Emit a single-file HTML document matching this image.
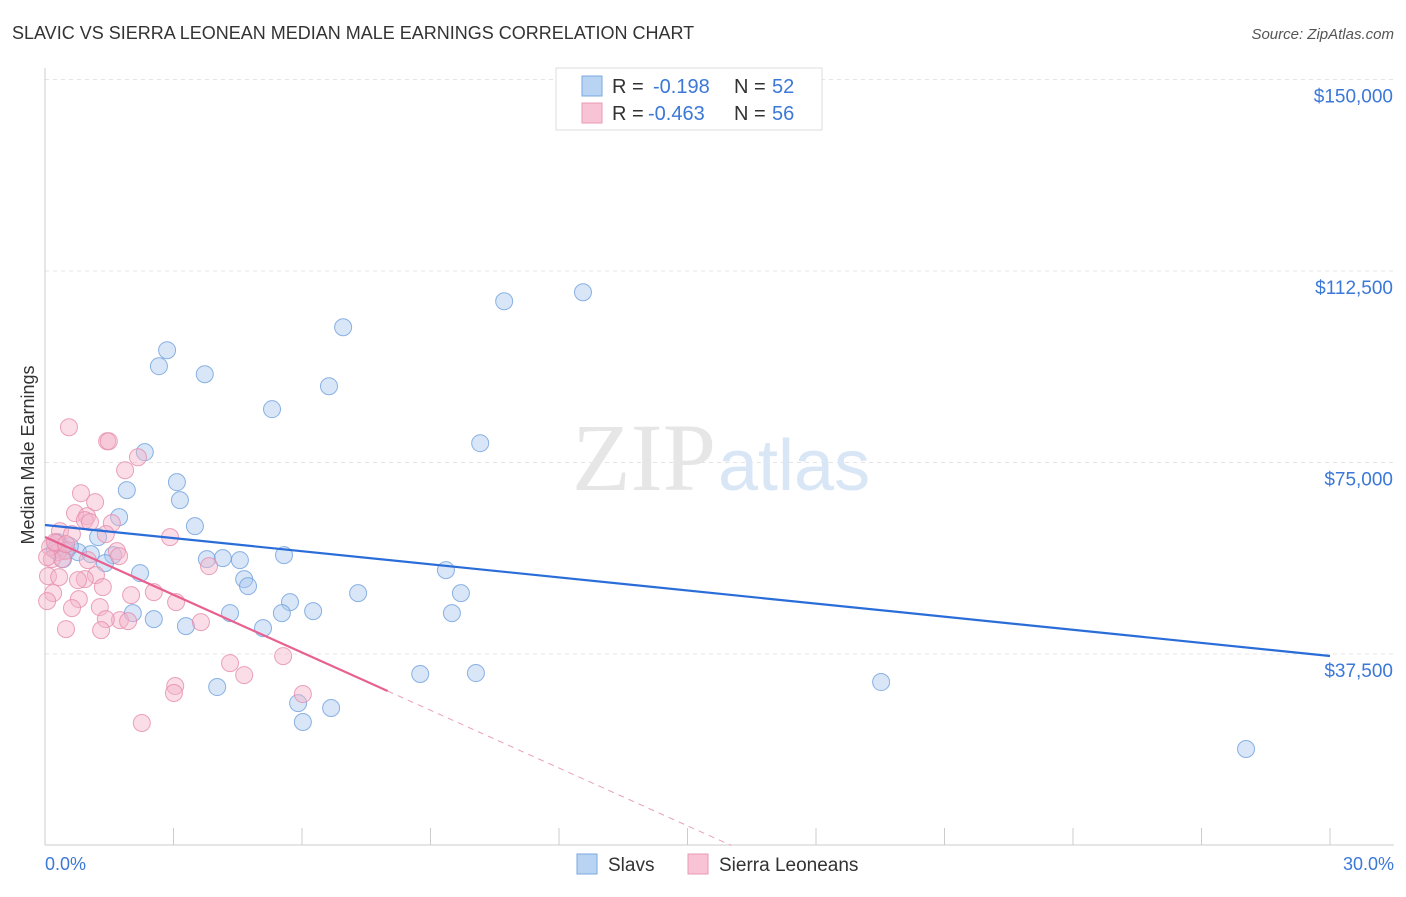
<!DOCTYPE html>
<html><head><meta charset="utf-8"><style>
body{margin:0;background:#fff;font-family:"Liberation Sans",sans-serif;}
svg text{font-family:"Liberation Sans",sans-serif;}
</style></head><body>
<svg id="chart" width="1406" height="892">
<text x="12" y="39" font-size="18" fill="#333">SLAVIC VS SIERRA LEONEAN MEDIAN MALE EARNINGS CORRELATION CHART</text>
<text x="1394" y="39" font-size="15" fill="#555" text-anchor="end" font-style="italic">Source: ZipAtlas.com</text>
<g id="grid"></g>
<text x="716" y="490" font-size="96" fill="#e6e6e6" text-anchor="end" style="font-family:'Liberation Serif',serif">ZIP</text>
<text x="718" y="490" font-size="72" fill="#d8e6f6">atlas</text>
<g id="axes"></g>
<g id="pts"></g>
<g id="trends"></g>
<text x="34" y="455" font-size="18" fill="#333" text-anchor="middle" transform="rotate(-90 34 455)">Median Male Earnings</text>
<text x="45" y="870" font-size="18" fill="#3b78d8">0.0%</text>
<text x="1394" y="870" font-size="18" fill="#3b78d8" text-anchor="end">30.0%</text>
<g>
<rect x="556" y="68" width="266" height="62" fill="#fff" stroke="#ddd"/>
<rect x="582" y="76" width="20" height="20" fill="#b9d3f3" stroke="#7aaae0"/>
<rect x="582" y="103" width="20" height="20" fill="#f8c3d4" stroke="#e99ab6"/>
<text x="612" y="93" font-size="20" fill="#333">R =</text><text x="653" y="93" font-size="20" fill="#3b78d8">-0.198</text>
<text x="734" y="93" font-size="20" fill="#333">N =</text><text x="772" y="93" font-size="20" fill="#3b78d8">52</text>
<text x="612" y="120" font-size="20" fill="#333">R =</text><text x="648" y="120" font-size="20" fill="#3b78d8">-0.463</text>
<text x="734" y="120" font-size="20" fill="#333">N =</text><text x="772" y="120" font-size="20" fill="#3b78d8">56</text>
</g>
<g>
<rect x="577" y="854" width="20" height="20" fill="#b9d3f3" stroke="#7aaae0"/>
<text x="608" y="871" font-size="19" fill="#333">Slavs</text>
<rect x="688" y="854" width="20" height="20" fill="#f8c3d4" stroke="#e99ab6"/>
<text x="719" y="871" font-size="19" fill="#333">Sierra Leoneans</text>
</g>
</svg>
<script>
const yTicks=[37500,75000,112500,150000];
const yTickLabels=["$37,500","$75,000","$112,500","$150,000"];
const slavX=[12.56,10.72,6.96,2.85,2.66,3.73,6.63,5.30,10.16,2.33,3.08,1.91,3.15,1.73,3.50,1.24,0.30,0.51,0.77,1.07,1.59,1.40,0.42,3.78,4.15,4.55,5.58,9.36,2.22,4.65,4.74,7.31,9.71,5.72,4.32,5.53,6.26,2.05,2.54,3.29,5.09,9.50,8.76,10.06,4.02,19.52,5.91,6.68,6.02,28.04,0.23,0.58];
const slavY=[108340,106580,101490,96990,93860,92290,89940,85440,78780,77020,71150,69590,67630,64300,62540,60390,59410,57850,57450,57060,56860,55300,56080,56080,56280,55890,56860,53920,53330,52160,50790,49420,49420,47660,45510,45510,45900,45510,44330,42960,42570,45510,33580,33770,31030,32010,27890,26920,24180,18900,57850,58630];
const sierraX=[0.56,1.45,1.49,1.87,2.17,0.84,1.17,0.70,0.98,0.93,1.05,1.56,0.35,2.92,0.63,0.26,0.47,0.30,0.12,0.16,1.68,1.73,0.07,1.19,0.93,0.77,3.83,0.19,1.35,0.05,0.79,2.01,2.54,3.06,0.63,1.28,1.75,1.42,1.94,3.64,0.49,1.31,4.32,4.65,5.56,3.04,3.01,6.02,2.26,0.40,0.23,0.49,1.00,0.05,0.33,1.42];
const sierraY=[81910,79170,79170,73490,76030,68990,67230,65080,64490,63710,63320,63120,61560,60390,60970,59210,57650,57450,58430,56080,57650,56670,52750,52940,52160,51960,54700,49420,50600,47850,48250,49030,49620,47660,46490,46690,44140,44330,43940,43750,42380,42180,35720,33370,37090,31230,29860,29660,23990,56080,59410,59020,55890,56470,52550,60970];
// trend [intercept at 0%, slope per %]
const slavTrend=[62760,-855];
const sierraTrend=[60410,-3770];
const sierraSolidEnd=8;
const X0=45,X1=1330,XMAX=30,Y0=845.5,YS=191.5/37500;
const xp=v=>X0+(X1-X0)*v/XMAX, yp=v=>Y0-v*YS;
const NS="http://www.w3.org/2000/svg";
function mk(t,a,p){const e=document.createElementNS(NS,t);for(const k in a)e.setAttribute(k,a[k]);p.appendChild(e);return e;}
const grid=document.getElementById('grid'),axes=document.getElementById('axes'),pts=document.getElementById('pts'),tr=document.getElementById('trends');
yTicks.forEach((t,i)=>{
 const l=mk('line',{x1:45,x2:1394,y1:yp(t),y2:yp(t),stroke:'#e4e4e4','stroke-dasharray':'4,4'},grid);
 
 
 const tx=mk('text',{x:1393,y:yp(t)+23,'font-size':19,fill:'#3b78d8','text-anchor':'end'},axes);
 tx.textContent=yTickLabels[i];
 
 
});
mk('line',{x1:45,x2:45,y1:68,y2:845,stroke:'#ccc'},axes);
mk('line',{x1:45,x2:1394,y1:845,y2:845,stroke:'#ccc'},axes);
for(let i=0;i<=10;i++){const t=mk('line',{x1:xp(i*3),x2:xp(i*3),y1:828,y2:845,stroke:'#ccc'},axes);
 
 }
function dots(xs,ys,f,s,n){xs.forEach((x,i)=>{const c=mk('circle',{cx:xp(x),cy:yp(ys[i]),r:8.5,fill:f,'fill-opacity':0.45,stroke:s,'stroke-opacity':0.8,'stroke-width':1},pts);
 
 });}
dots(slavX,slavY,'#a9c8f0','#6fa0dc','slav-point');
dots(sierraX,sierraY,'#f5b3ca','#e68cad','sierra-point');
const ty=(p,x)=>p[0]+p[1]*x;
let l=mk('line',{x1:xp(0),y1:yp(ty(slavTrend,0)),x2:xp(30),y2:yp(ty(slavTrend,30)),stroke:'#2a6dd9','stroke-width':2.2},tr);


const xz=-sierraTrend[0]/sierraTrend[1];
l=mk('line',{x1:xp(0),y1:yp(ty(sierraTrend,0)),x2:xp(sierraSolidEnd),y2:yp(ty(sierraTrend,sierraSolidEnd)),stroke:'#e8608f','stroke-width':2.2},tr);


l=mk('line',{x1:xp(sierraSolidEnd),y1:yp(ty(sierraTrend,sierraSolidEnd)),x2:xp(xz),y2:yp(0),stroke:'#e8a0b8','stroke-width':1,'stroke-dasharray':'6,5'},tr);


</script>
</body></html>
